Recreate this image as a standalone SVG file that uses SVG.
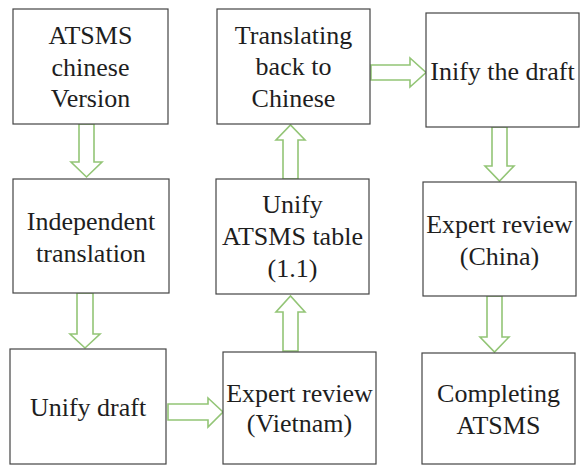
<svg xmlns="http://www.w3.org/2000/svg" width="583" height="465" viewBox="0 0 583 465">
<style>
.box{fill:#fff;stroke:#444;stroke-width:1.2}
.t{font-size:26px;fill:#1e1e1e;text-anchor:middle}
.arr{fill:#fff;stroke:#93c576;stroke-width:1.6;stroke-linejoin:miter}
</style>
<rect width="583" height="465" fill="#fff"/>
<g id="connectors">
<path class="arr" d="M79,124 L94,124 L94,162 L102,162 L86.5,177 L71,162 L79,162 Z"/>
<path class="arr" d="M77,293 L93,293 L93,334 L100,334 L85,348 L70,334 L77,334 Z"/>
<path class="arr" d="M168,404 L208,404 L208,398 L223,412 L208,427 L208,420 L168,420 Z"/>
<path class="arr" d="M283,351 L298,351 L298,312 L305,312 L290.5,296 L276,312 L283,312 Z"/>
<path class="arr" d="M283,179 L298,179 L298,140 L305,140 L290.5,125 L276,140 L283,140 Z"/>
<path class="arr" d="M371,65 L410,65 L410,58 L426,72.5 L410,87 L410,80 L371,80 Z"/>
<path class="arr" d="M492,127 L507,127 L507,166 L514,166 L499.5,181 L485,166 L492,166 Z"/>
<path class="arr" d="M487,296 L502,296 L502,337 L509,337 L494.5,352 L480,337 L487,337 Z"/>
</g>
<g font-family="Liberation Serif, serif">
<g id="n1"><rect class="box" x="13" y="9" width="155" height="115"/>
<text class="t" x="90.5" y="44">ATSMS</text><text class="t" x="90.5" y="75.5">chinese</text><text class="t" x="90.5" y="107">Version</text></g>
<g id="n2"><rect class="box" x="13" y="179" width="156" height="114"/>
<text class="t" x="91" y="230">Independent</text><text class="t" x="91" y="262">translation</text></g>
<g id="n3"><rect class="box" x="10" y="349" width="156" height="115"/>
<text class="t" x="88" y="416">Unify draft</text></g>
<g id="n4"><rect class="box" x="223" y="352" width="153" height="112"/>
<text class="t" x="299.5" y="402">Expert review</text><text class="t" x="299.5" y="432">(Vietnam)</text></g>
<g id="n5"><rect class="box" x="216" y="179" width="153" height="115"/>
<text class="t" x="292.5" y="213">Unify</text><text class="t" x="292.5" y="245">ATSMS table</text><text class="t" x="292.5" y="277">(1.1)</text></g>
<g id="n6"><rect class="box" x="217" y="9" width="153" height="115"/>
<text class="t" x="293.5" y="43.5">Translating</text><text class="t" x="293.5" y="75">back to</text><text class="t" x="293.5" y="107">Chinese</text></g>
<g id="n7"><rect class="box" x="426" y="13" width="153" height="114"/>
<text class="t" x="502.5" y="79.5">Inify the draft</text></g>
<g id="n8"><rect class="box" x="423" y="182" width="153" height="114"/>
<text class="t" x="499.5" y="233">Expert review</text><text class="t" x="499.5" y="265">(China)</text></g>
<g id="n9"><rect class="box" x="422" y="353" width="153" height="111"/>
<text class="t" x="498.5" y="402">Completing</text><text class="t" x="498.5" y="434">ATSMS</text></g>
</g>
</svg>
